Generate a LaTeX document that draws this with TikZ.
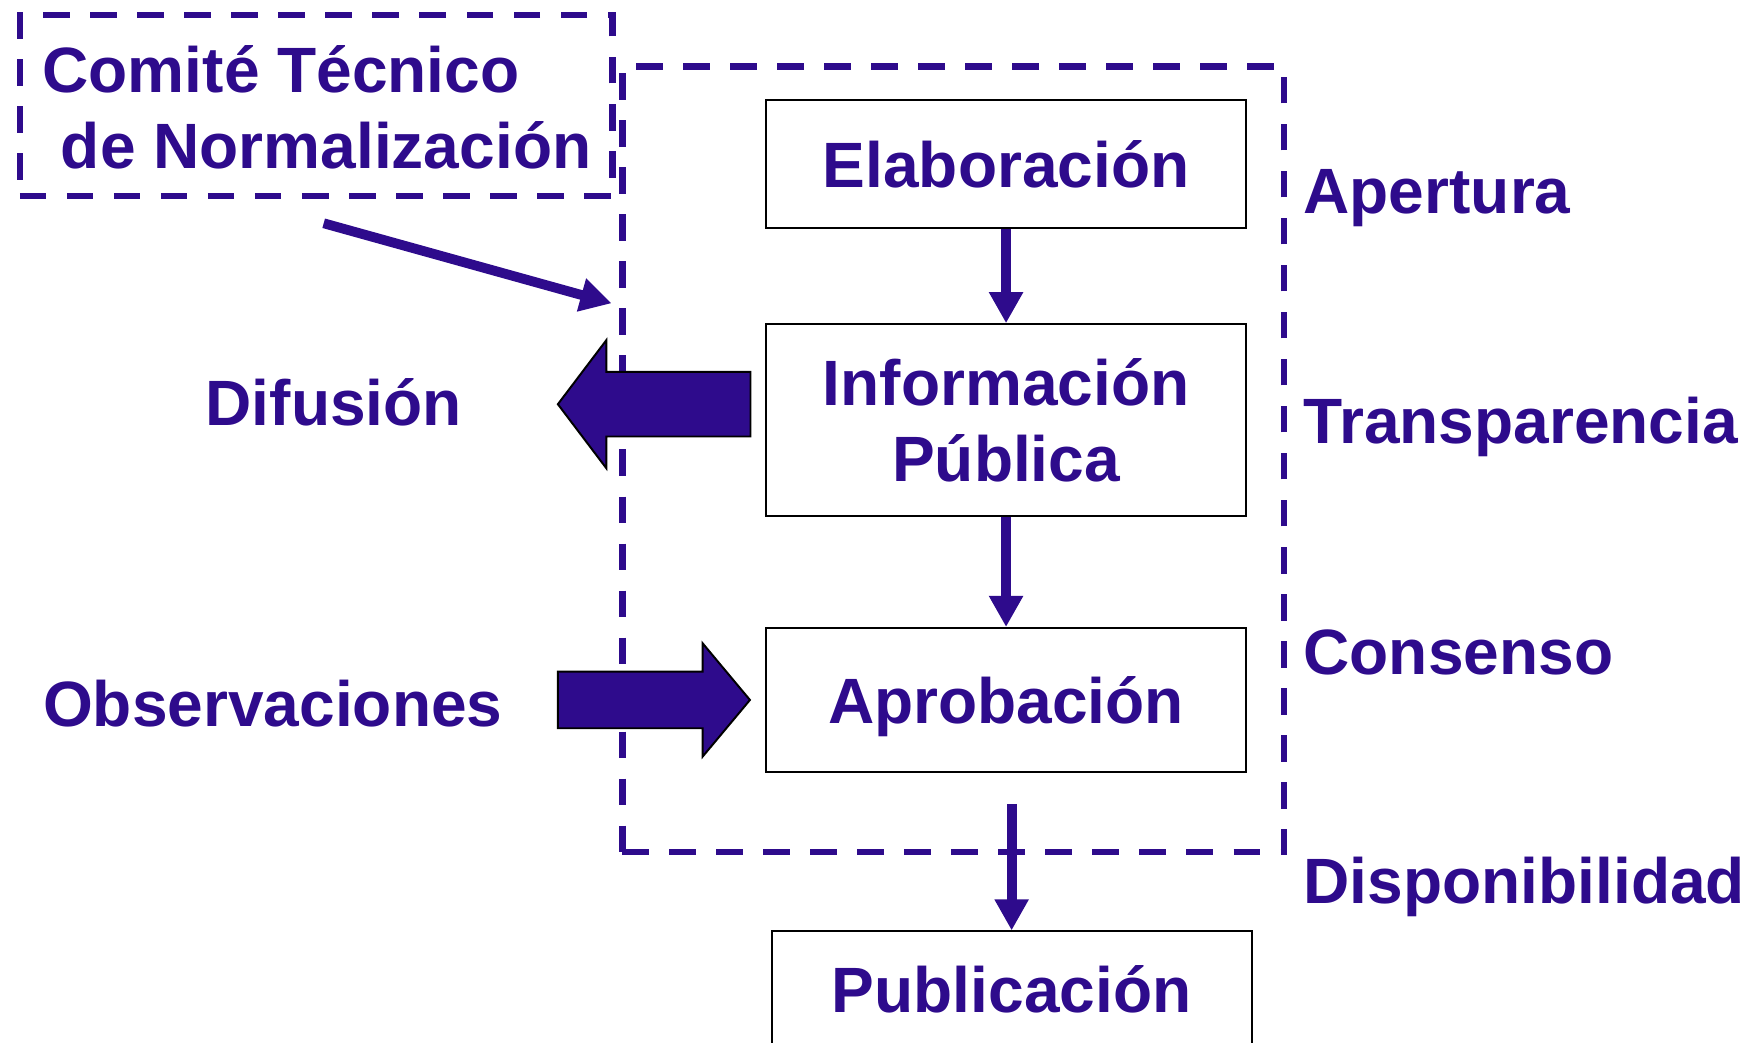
\documentclass[tikz,border=0pt]{standalone}
\usepackage{fontspec}
\setmainfont{Liberation Sans}
\usepackage{tikz}
\usetikzlibrary{arrows.meta,positioning}
\definecolor{normpurple}{RGB}{46,11,140}

\begin{document}
\begin{tikzpicture}[x=0.01cm,y=-0.01cm]
        \tikzstyle{every node}=[font=\fontsize{16.36}{19.5}\selectfont\bfseries,text=normpurple]
        \tikzstyle{stage}=[draw=black,line width=0.5pt,minimum width=4.31cm,inner sep=0pt,align=center]
        \tikzstyle{lbl}=[inner sep=0pt,anchor=base west,align=left]
        \tikzstyle{frame}=[draw=normpurple,line width=1.7pt,dash pattern=on 0.238cm off 0.184cm,inner sep=0pt]
        \tikzstyle{flow}=[-{Triangle[length=0.28cm,width=0.29cm]},line width=2.5pt,draw=normpurple]
        \tikzstyle{bigarrow}=[fill=normpurple,draw=black,line width=0.5pt]

        \useasboundingbox (0,0) rectangle (1568,936);
        \clip (0,0) rectangle (1568,936);

        %%% Frames
        \node[frame,minimum width=5.32cm,minimum height=1.625cm] (ctnbox) at (284,94.75) {};
        \node[frame,minimum width=5.94cm,minimum height=7.05cm] (procbox) at (856,412.5) {};
        % base of a two-line node is the last line
        \node[lbl] (ctn) at (37.5,151.2) {Comité Técnico\\\hspace*{0.165cm}de Normalización};

        %%% Stages
        \node[stage,minimum height=1.15cm] (elab) at (903.5,147.5) {Elaboración};
        \node[stage,minimum height=1.72cm] (info) at (903.5,377.2) {Información\\Pública};
        \node[stage,minimum height=1.29cm,text depth=0pt] (aprob) at (903.5,628.5) {Aprobación};
        \node[stage,minimum height=1.04cm,text depth=0pt] (publ) at (908.5,888.5) {Publicación};

        \coordinate (ctnout) at (290.7,200.5);
        \coordinate (procin) at (549.2,272.4);
        \coordinate (aprobout) at (908.5,722);

        \draw[flow] (elab) -- (info);
        \draw[flow] (info) -- (aprob);
        \draw[flow] (aprobout) -- (publ.north);
        \draw[flow] (ctnout) -- (procin);

        %%% Block arrows
        \filldraw[bigarrow] (674,334) -- (544.5,334) -- (544.5,305.5) -- (501,363) -- (544.5,420.5) -- (544.5,392) -- (674,392) -- cycle;
        \filldraw[bigarrow] (501,603.2) -- (631,603.2) -- (631,577.7) -- (673.5,628.6) -- (631,679.5) -- (631,654) -- (501,654) -- cycle;

        %%% Labels
        \node[lbl] (difus) at (184,381.7) {Difusión};
        \node[lbl] (observ) at (38,652.6) {Observaciones};
        \node[lbl] (apert) at (1170,191.5) {Apertura};
        \node[lbl] (transp) at (1170,398) {Transparencia};
        \node[lbl] (cons) at (1170,605.3) {Consenso};
        \node[lbl] (disp) at (1170,811) {Disponibilidad};
\end{tikzpicture}
\end{document}
